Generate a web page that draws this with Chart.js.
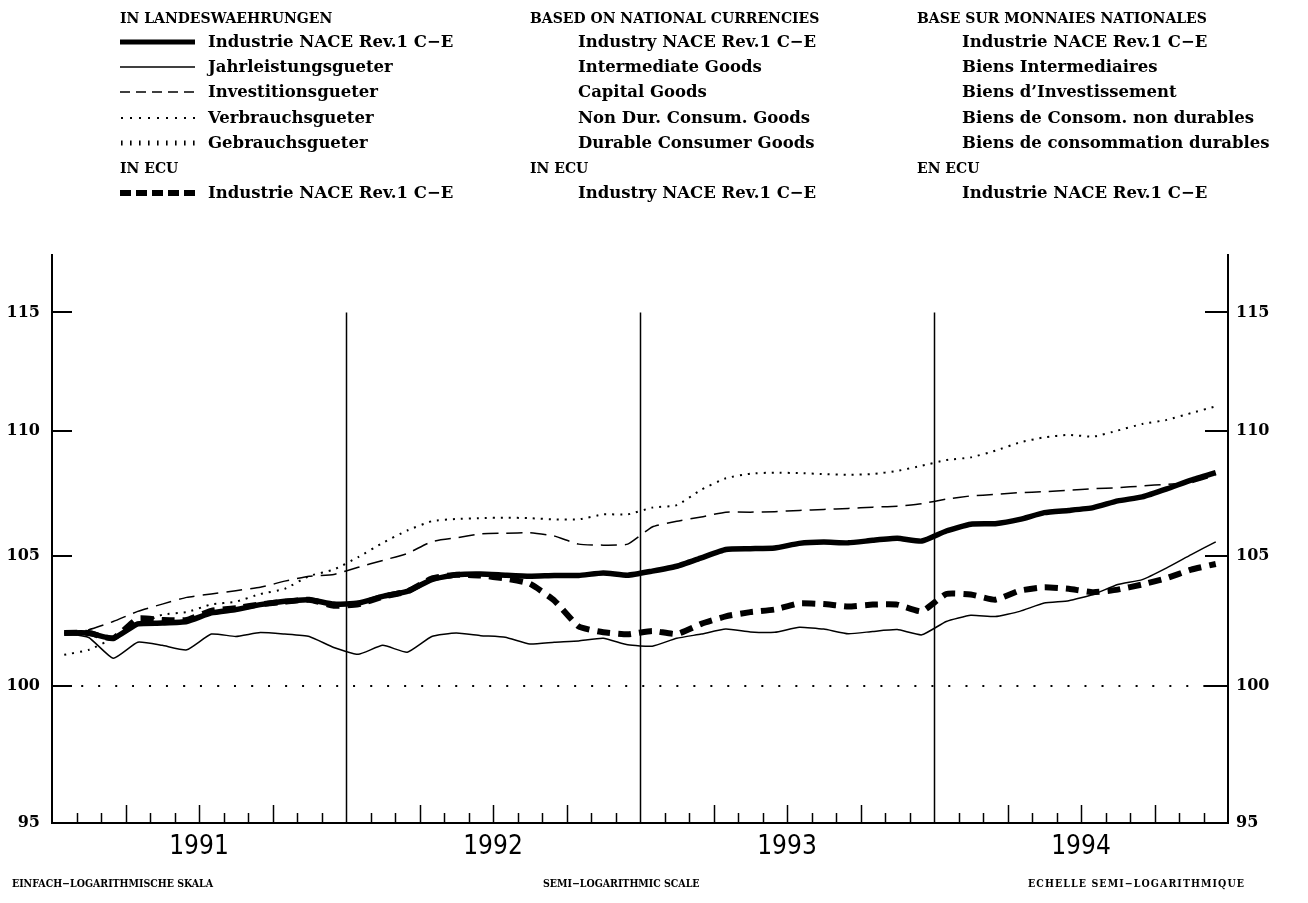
<!DOCTYPE html>
<html><head><meta charset="utf-8">
<script src="https://cdn.jsdelivr.net/npm/chart.js@4"></script>
<style>
html,body{margin:0;padding:0;background:#fff;}
#wrap{position:relative;width:1308px;height:903px;overflow:hidden;}
#c{position:absolute;left:0;top:0;}
.t{position:absolute;font-family:"DejaVu Serif",serif;font-size:16.5px;font-weight:bold;color:#000;white-space:nowrap;line-height:20px;height:20px;}
.h{font-family:"DejaVu Serif",serif;font-size:14px;}
.f{position:absolute;font-family:"DejaVu Serif Condensed","DejaVu Serif",serif;font-weight:bold;font-size:10.5px;color:#000;white-space:nowrap;line-height:14px;}
#lg{position:absolute;left:0;top:0;}
</style></head>
<body><div id="wrap">
<canvas id="c" width="1308" height="903"></canvas>
<svg id="lg" width="1308" height="230">
  <line x1="120" y1="42" x2="195" y2="42" stroke="#000" stroke-width="5"/>
  <line x1="120" y1="67" x2="195" y2="67" stroke="#000" stroke-width="1.5"/>
  <line x1="120" y1="92" x2="195" y2="92" stroke="#000" stroke-width="1.5" stroke-dasharray="10 6"/>
  <line x1="121" y1="118" x2="195" y2="118" stroke="#000" stroke-width="2" stroke-dasharray="2 7"/>
  <line x1="121" y1="143" x2="195" y2="143" stroke="#000" stroke-width="5" stroke-dasharray="1.6 7.4"/>
  <line x1="120" y1="193" x2="195" y2="193" stroke="#000" stroke-width="6" stroke-dasharray="11 5"/>
</svg>
<div id="legend"></div>
<div class="f" style="left:12px;top:876px;">EINFACH−LOGARITHMISCHE SKALA</div>
<div class="f" style="left:543px;top:876px;">SEMI−LOGARITHMIC SCALE</div>
<div class="f" style="left:1028px;top:876px;letter-spacing:1.1px;">ECHELLE SEMI−LOGARITHMIQUE</div>
</div>
<script>
// ---- data (monthly, Jan 1991 .. Dec 1994) ----
const years = ['1991', '1992', '1993', '1994'];
const yTickValues = [95, 100, 105, 110, 115];
const refLevel = 100;

const industrie = [
  102.0, 102.0, 101.8, 102.35, 102.38, 102.44, 102.77, 102.9, 103.09, 103.22, 103.28, 103.11,
  103.15, 103.41, 103.6, 104.06, 104.25, 104.28, 104.23, 104.19, 104.22, 104.22, 104.32, 104.23,
  104.39, 104.58, 104.91, 105.24, 105.27, 105.3, 105.48, 105.53, 105.5, 105.6, 105.68, 105.57,
  105.97, 106.24, 106.26, 106.43, 106.7, 106.79, 106.9, 107.17, 107.33, 107.65, 108.01, 108.31
];
const jahrleistung = [
  102.0, 101.83, 101.04, 101.65, 101.53, 101.36, 101.96, 101.87, 102.02, 101.96, 101.87, 101.45,
  101.19, 101.53, 101.27, 101.87, 102.0, 101.9, 101.84, 101.58, 101.65, 101.7, 101.8, 101.55,
  101.5, 101.8, 101.96, 102.15, 102.04, 102.03, 102.22, 102.15, 101.97, 102.06, 102.13, 101.93,
  102.44, 102.68, 102.63, 102.83, 103.15, 103.24, 103.48, 103.87, 104.06, 104.52, 105.04, 105.54
];
const investition = [
  102.0, 102.13, 102.44, 102.83, 103.11, 103.37, 103.5, 103.63, 103.76, 104.0, 104.19, 104.26,
  104.54, 104.81, 105.08, 105.55, 105.7, 105.86, 105.88, 105.9, 105.77, 105.45, 105.41, 105.45,
  106.13, 106.36, 106.53, 106.72, 106.72, 106.74, 106.79, 106.83, 106.87, 106.92, 106.96, 107.06,
  107.24, 107.37, 107.43, 107.5, 107.54, 107.6, 107.66, 107.7, 107.77, 107.84, 107.9, 108.2
];
const verbrauch = [
  101.17, 101.36, 101.8, 102.3, 102.7, 102.8, 103.1, 103.2, 103.5, 103.7, 104.2, 104.45,
  104.94, 105.5, 105.99, 106.36, 106.45, 106.48, 106.5, 106.48, 106.43, 106.43, 106.63, 106.63,
  106.9, 107.0, 107.62, 108.08, 108.27, 108.31, 108.29, 108.25, 108.22, 108.25, 108.38, 108.59,
  108.82, 108.93, 109.2, 109.54, 109.75, 109.85, 109.78, 110.03, 110.3, 110.47, 110.75, 111.03
];
const industrieEcu = [
  102.0, 102.0, 101.8, 102.55, 102.5, 102.5, 102.85, 102.95, 103.1, 103.2, 103.28, 103.05,
  103.1, 103.4, 103.6, 104.1, 104.25, 104.22, 104.1, 103.9, 103.25, 102.25, 102.03, 101.95,
  102.08, 101.96, 102.35, 102.64, 102.8, 102.9, 103.14, 103.11, 103.02, 103.09, 103.09, 102.83,
  103.5, 103.48, 103.28, 103.63, 103.76, 103.7, 103.57, 103.67, 103.87, 104.12, 104.45, 104.67
];

// ---- legend texts ----
const legendCols = [
  {x: 120, tx: 208, rows: ['IN LANDESWAEHRUNGEN', 'Industrie NACE Rev.1 C−E', 'Jahrleistungsgueter', 'Investitionsgueter', 'Verbrauchsgueter', 'Gebrauchsgueter', 'IN ECU', 'Industrie NACE Rev.1 C−E']},
  {x: 530, tx: 578, rows: ['BASED ON NATIONAL CURRENCIES', 'Industry NACE Rev.1 C−E', 'Intermediate Goods', 'Capital Goods', 'Non Dur. Consum. Goods', 'Durable Consumer Goods', 'IN ECU', 'Industry NACE Rev.1 C−E']},
  {x: 917, tx: 962, rows: ['BASE SUR MONNAIES NATIONALES', 'Industrie NACE Rev.1 C−E', 'Biens Intermediaires', 'Biens d\u2019Investissement', 'Biens de Consom. non durables', 'Biens de consommation durables', 'EN ECU', 'Industrie NACE Rev.1 C−E']}
];
const rowY = [18, 42, 67, 92, 118, 143, 168, 193];
const headerRows = [0, 6];
const lg = document.getElementById('legend');
legendCols.forEach(col => {
  col.rows.forEach((txt, r) => {
    const d = document.createElement('div');
    const isH = headerRows.includes(r);
    d.className = isH ? 't h' : 't';
    d.textContent = txt;
    d.style.left = (isH ? col.x : col.tx) + 'px';
    d.style.top = (rowY[r] - 10) + 'px';
    lg.appendChild(d);
  });
});

const pts = arr => arr.map((v, i) => ({x: i + 0.5, y: v}));
const K = '#000';

const decor = {
  id: 'decor',
  afterDatasetsDraw(chart) {
    const {ctx, chartArea: a, scales: {x, y}} = chart;
    ctx.save();
    ctx.strokeStyle = K;
    ctx.lineWidth = 1.5;
    const topSep = y.getPixelForValue(115);
    [12, 24, 36].forEach(m => {
      const px = Math.round(x.getPixelForValue(m)) + 0.5;
      ctx.beginPath(); ctx.moveTo(px, topSep); ctx.lineTo(px, a.bottom); ctx.stroke();
    });
    for (let m = 1; m < 48; m++) {
      if (m % 12 === 0) continue;
      const len = (m % 3 === 0) ? 18 : 10;
      const px = Math.round(x.getPixelForValue(m)) + 0.5;
      ctx.beginPath(); ctx.moveTo(px, a.bottom); ctx.lineTo(px, a.bottom - len); ctx.stroke();
    }
    ctx.lineWidth = 2;
    yTickValues.forEach(v => {
      if (v === 95) return;
      const py = Math.round(y.getPixelForValue(v));
      ctx.beginPath(); ctx.moveTo(a.left, py); ctx.lineTo(a.left + 20, py); ctx.stroke();
      ctx.beginPath(); ctx.moveTo(a.right, py); ctx.lineTo(a.right - 23, py); ctx.stroke();
    });
    ctx.restore();
  }
};

const yCommon = {
  type: 'logarithmic', min: 95, max: 117.5,
  afterBuildTicks: s => { s.ticks = yTickValues.map(v => ({value: v})); },
  grid: {display: false, drawTicks: false},
  border: {display: true, color: K, width: 2},
  ticks: {
    callback: v => String(v), autoSkip: false, color: K,
    font: {family: 'DejaVu Serif', size: 16, weight: 'bold'}
  }
};

new Chart(document.getElementById('c'), {
  type: 'line',
  data: {
    datasets: [
      {label: 'ref', data: [{x: 0.5, y: refLevel}, {x: 47.5, y: refLevel}], borderColor: K, borderWidth: 2, borderDash: [2, 15], yAxisID: 'y'},
      {label: 'Jahrleistungsgueter', data: pts(jahrleistung), borderColor: K, borderWidth: 1.5, yAxisID: 'y'},
      {label: 'Investitionsgueter', data: pts(investition), borderColor: K, borderWidth: 1.5, borderDash: [16, 8], yAxisID: 'y'},
      {label: 'Verbrauchsgueter', data: pts(verbrauch), borderColor: K, borderWidth: 2, borderDash: [2, 6], yAxisID: 'y'},
      {label: 'Industrie NACE Rev.1 C−E (ECU)', data: pts(industrieEcu), borderColor: K, borderWidth: 6, borderDash: [13, 8], yAxisID: 'y'},
      {label: 'Industrie NACE Rev.1 C−E', data: pts(industrie), borderColor: K, borderWidth: 5.5, yAxisID: 'y'}
    ]
  },
  options: {
    responsive: false, animation: false,
    layout: {padding: {top: 255, left: 0, right: 0, bottom: 0}},
    plugins: {legend: {display: false}, tooltip: {enabled: false}},
    elements: {point: {radius: 0}, line: {tension: 0.15, borderCapStyle: 'butt', borderJoinStyle: 'round'}},
    scales: {
      x: {
        type: 'linear', min: 0, max: 48, position: 'bottom',
        afterBuildTicks: s => { s.ticks = years.map((_, i) => ({value: 6 + 12 * i})); },
        afterFit: s => { s.height = 80; },
        grid: {display: false, drawTicks: false},
        border: {display: true, color: K, width: 2},
        ticks: {
          callback: v => years[Math.round((v - 6) / 12)], autoSkip: false, maxRotation: 0, padding: 9, color: K,
          font: {family: 'DejaVu Sans Condensed, DejaVu Sans', size: 26}
        }
      },
      y: Object.assign({}, yCommon, {position: 'left', afterFit: s => { s.width = 52; },
        ticks: Object.assign({}, yCommon.ticks, {padding: 12})}),
      y2: Object.assign({}, yCommon, {position: 'right', afterFit: s => { s.width = 80; },
        ticks: Object.assign({}, yCommon.ticks, {padding: 8})})
    }
  },
  plugins: [decor]
});
</script>
</body></html>
